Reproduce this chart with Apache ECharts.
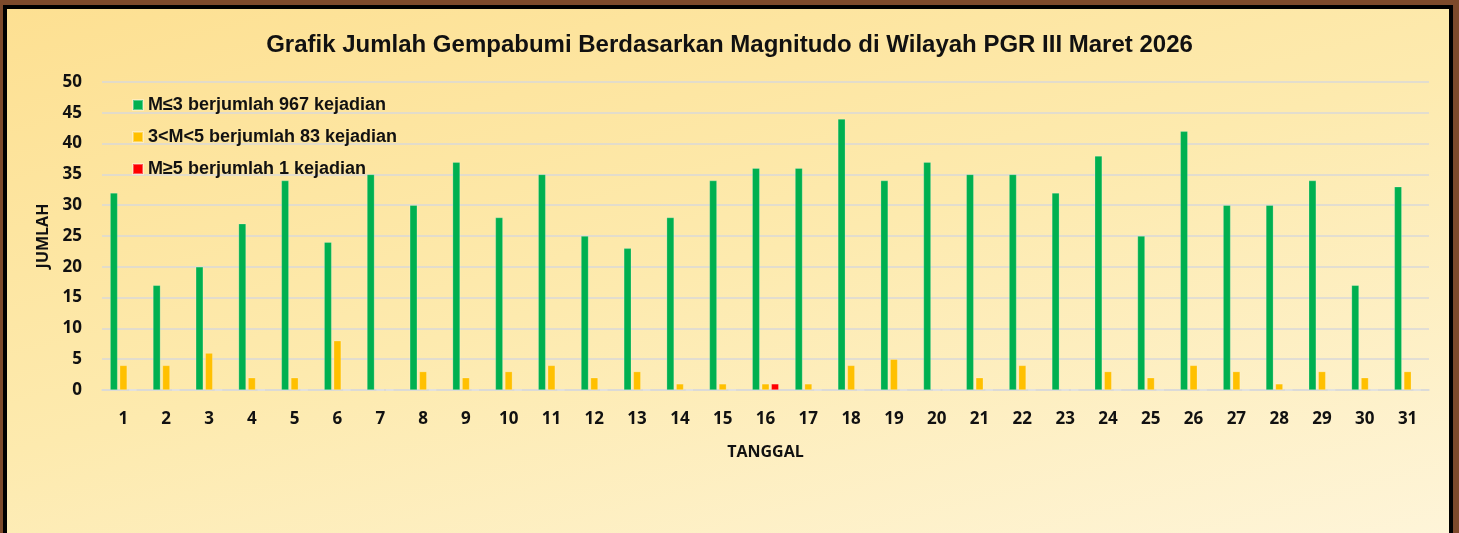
<!DOCTYPE html>
<html>
<head>
<meta charset="utf-8">
<script src="https://cdn.jsdelivr.net/npm/echarts@6/dist/echarts.min.js"></script>
<style>
  html, body { margin: 0; padding: 0; width: 1459px; height: 533px; overflow: hidden; background: #7d4a2b; }
  .frame {
    position: absolute; left: 3px; top: 5px; width: 1442px; height: 600px;
    border: 4px solid #000;
    background: linear-gradient(165deg, #fde092 0%, #fdeaae 45%, #fef6df 100%);
  }
  #chart { position: absolute; left: 0; top: 0; width: 1459px; height: 533px; }
</style>
</head>
<body>
<div class="frame"></div>
<div id="chart"></div>
<script>
const days = ['1','2','3','4','5','6','7','8','9','10','11','12','13','14','15','16','17','18','19','20','21','22','23','24','25','26','27','28','29','30','31']
const magSmall = [32, 17, 20, 27, 34, 24, 35, 30, 37, 28, 35, 25, 23, 28, 34, 36, 36, 44, 34, 37, 35, 35, 32, 38, 25, 42, 30, 30, 34, 17, 33]
const magMid = [4, 4, 6, 2, 2, 8, 0, 3, 2, 3, 4, 2, 3, 1, 1, 1, 1, 4, 5, 0, 2, 4, 0, 3, 2, 4, 3, 1, 3, 2, 3]
const magBig = [0, 0, 0, 0, 0, 0, 0, 0, 0, 0, 0, 0, 0, 0, 0, 1, 0, 0, 0, 0, 0, 0, 0, 0, 0, 0, 0, 0, 0, 0, 0]
const seriesNames = ['M≤3 berjumlah 967 kejadian', '3<M<5 berjumlah 83 kejadian', 'M≥5 berjumlah 1 kejadian']
const seriesColors = ['#00b050', '#ffc000', '#ff0000']

const chart = echarts.init(document.getElementById('chart'))
const axisFont = { fontFamily: 'Open Sans', fontWeight: 'bold', color: '#111' }

chart.setOption({
  animation: false,
  title: {
    text: 'Grafik Jumlah Gempabumi Berdasarkan Magnitudo di Wilayah PGR III Maret 2026',
    left: 'center',
    top: 28,
    textStyle: { fontFamily: 'Liberation Sans', fontWeight: 'bold', fontSize: 24, color: '#111' }
  },
  legend: {
    orient: 'vertical',
    left: 132,
    top: 96,
    padding: 0,
    itemWidth: 10,
    itemHeight: 10,
    itemGap: 14,
    icon: 'rect',
    textStyle: { fontFamily: 'Liberation Sans', fontWeight: 'bold', fontSize: 18, color: '#111' },
    data: seriesNames
  },
  grid: { left: 102, right: 30, top: 82, bottom: 143 },
  xAxis: {
    type: 'category',
    data: days,
    name: 'TANGGAL',
    nameLocation: 'middle',
    nameGap: 54,
    nameTextStyle: { ...axisFont, fontSize: 16 },
    axisTick: { show: false },
    axisLine: { lineStyle: { color: '#d9d9d9', width: 1.5 } },
    axisLabel: { ...axisFont, fontSize: 17, margin: 21 }
  },
  yAxis: {
    type: 'value',
    min: 0,
    max: 50,
    interval: 5,
    name: 'JUMLAH',
    nameLocation: 'middle',
    nameGap: 50,
    nameTextStyle: { ...axisFont, fontSize: 16 },
    axisLine: { show: false },
    axisTick: { show: false },
    axisLabel: { ...axisFont, fontSize: 17, margin: 20 },
    splitLine: { lineStyle: { color: '#d9d9d9', width: 1.5 } }
  },
  series: [magSmall, magMid, magBig].map((vals, i) => ({
    name: seriesNames[i],
    type: 'bar',
    data: vals,
    barWidth: 7.5,
    barGap: '27%',
    itemStyle: { color: seriesColors[i], borderColor: 'rgba(255,255,255,0.35)', borderWidth: 0.6 }
  }))
})
</script>
</body>
</html>
